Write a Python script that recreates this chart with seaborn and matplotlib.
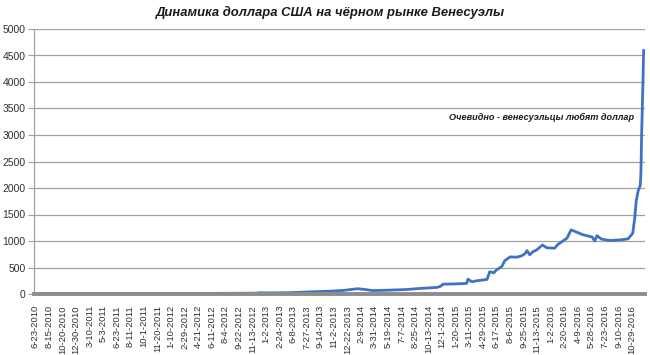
import matplotlib
matplotlib.use("Agg")
import matplotlib.pyplot as plt
import seaborn as sns
import pandas as pd

# Observation number (20 observations between consecutive date labels) and rate
obs = [0, 94, 213, 286, 323, 334, 339, 375, 404, 438, 456, 475, 486, 497, 515,
       537, 548, 567, 593, 598, 601, 618, 636, 638, 644, 651, 666, 670, 676, 680,
       688, 692, 700, 710, 717, 722, 725, 729, 734, 739, 748, 753, 756, 766, 770,
       778, 784, 790, 796, 807, 821, 825, 828, 835, 847, 862, 874, 878, 881, 884,
       886, 889, 892, 893, 894, 896, 897]
rate = [10, 10, 11, 13, 16, 25, 20, 25, 40, 55, 70, 100, 85, 65, 70,
        80, 85, 105, 125, 150, 185, 190, 200, 280, 230, 250, 275, 420, 400, 455,
        520, 625, 700, 695, 720, 760, 820, 740, 800, 830, 925, 880, 870, 865, 930,
        1000, 1055, 1210, 1180, 1120, 1075, 1000, 1100, 1035, 1010, 1020, 1040, 1100, 1150, 1450,
        1750, 1950, 2050, 2300, 3000, 4000, 4600]

date_labels = ["6-23-2010", "8-15-2010", "10-20-2010", "12-30-2010", "3-10-2011",
               "5-3-2011", "6-23-2011", "8-11-2011", "10-1-2011", "11-20-2011",
               "1-10-2012", "2-29-2012", "4-21-2012", "6-11-2012", "8-4-2012",
               "9-22-2012", "11-13-2012", "1-2-2013", "2-24-2013", "6-8-2013",
               "7-27-2013", "9-14-2013", "11-2-2013", "12-22-2013", "2-9-2014",
               "3-31-2014", "5-19-2014", "7-7-2014", "8-25-2014", "10-13-2014",
               "12-1-2014", "1-20-2015", "3-11-2015", "4-29-2015", "6-17-2015",
               "8-6-2015", "9-25-2015", "11-13-2015", "1-2-2016", "2-20-2016",
               "4-9-2016", "5-28-2016", "7-23-2016", "9-10-2016", "10-29-2016"]
label_step = 20
y_ticks = list(range(0, 5001, 500))

title = "Динамика доллара США на чёрном рынке Венесуэлы"
note = "Очевидно - венесуэльцы любят доллар"

sns.set_theme(style="white")
plt.rcParams['font.family'] = ['Liberation Sans', 'DejaVu Sans']

df = pd.DataFrame({"obs": obs, "rate": rate})

fig = plt.figure(figsize=(6.5, 3.55), dpi=100)
ax = fig.add_axes([34/650, 1 - 294/355, 611/650, 265/355])

sns.lineplot(data=df, x="obs", y="rate", ax=ax, color="#3F73C1", linewidth=2.0)

ax.set_xlim(-2, 899)
ax.set_ylim(0, 5000)
ax.set_yticks(y_ticks)
ax.set_yticklabels([str(v) for v in y_ticks], fontsize=7.5)
ax.set_xticks([i * label_step for i in range(len(date_labels))])
ax.set_xticklabels(date_labels, rotation=90, fontsize=6.8)
ax.set_xlabel("")
ax.set_ylabel("")
ax.grid(axis="y", color="#A0A0A0", linewidth=0.9)
ax.set_axisbelow(True)

for s in ["top", "right"]:
    ax.spines[s].set_visible(False)
ax.spines["left"].set_color("#A0A0A0")
ax.spines["left"].set_linewidth(0.9)
ax.spines["bottom"].set_color("#8C8C8C")
ax.spines["bottom"].set_linewidth(2.8)
ax.tick_params(axis="y", which="major", left=True, length=4, width=0.8,
               color="#A0A0A0", pad=2, labelcolor="#303030")
ax.tick_params(axis="x", which="major", bottom=False, pad=2, labelcolor="#303030")

ax.text(883, 3330, note, ha="right", va="center", fontsize=6.6,
        fontweight="bold", fontstyle="italic", color="#1a1a1a")
fig.text(0.508, 1 - 12/355, title, ha="center", va="center", fontsize=9.4,
         fontweight="bold", fontstyle="italic", color="#1a1a1a")

fig.savefig("out.png", dpi=100, facecolor="white")
